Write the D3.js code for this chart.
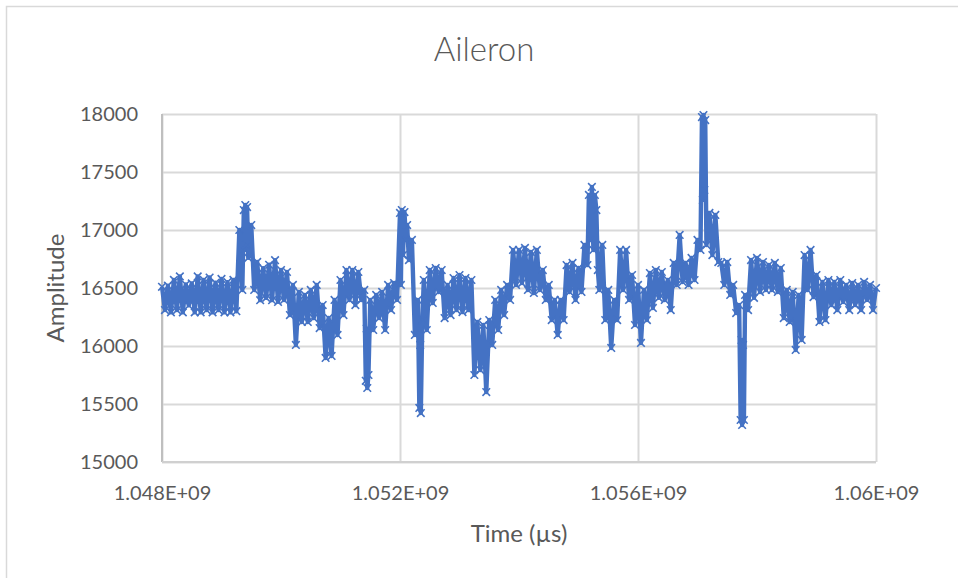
<!DOCTYPE html>
<html lang="en">
<head>
    <meta charset="utf-8">
    <style>
        body { margin: 0; background: #fff; }
        text { font-family: Lato, "Open Sans", sans-serif; fill: #595959; }
    </style>
    <script src="https://d3js.org/d3.v7.min.js"></script>
</head>
<body>
<script>
    var width = 958, height = 578;

    // time in seconds (multiplied to µs below), one line per second
    var timeSec = [
        1048.00,1048.05,1048.10,1048.15,1048.20,1048.25,1048.30,1048.35,1048.40,1048.45,1048.50,1048.55,1048.60,1048.65,1048.70,1048.75,1048.80,1048.85,1048.90,1048.95,
        1049.00,1049.05,1049.10,1049.15,1049.20,1049.25,1049.30,1049.35,1049.375,1049.39,1049.40,1049.415,1049.43,1049.45,1049.50,1049.55,1049.60,1049.65,1049.70,1049.75,1049.80,1049.85,1049.90,1049.95,
        1050.00,1050.05,1050.10,1050.15,1050.20,1050.25,1050.30,1050.35,1050.40,1050.45,1050.50,1050.55,1050.60,1050.65,1050.70,1050.75,1050.80,1050.85,1050.90,1050.95,
        1051.00,1051.05,1051.10,1051.15,1051.20,1051.25,1051.30,1051.35,1051.40,1051.425,1051.44,1051.45,1051.47,1051.50,1051.55,1051.60,1051.65,1051.70,1051.75,1051.80,1051.85,1051.90,1051.95,
        1052.00,1052.015,1052.03,1052.05,1052.075,1052.10,1052.12,1052.15,1052.20,1052.25,1052.30,1052.325,1052.34,1052.35,1052.375,1052.40,1052.45,1052.50,1052.55,1052.60,1052.65,1052.70,1052.75,1052.80,1052.85,1052.90,1052.95,
        1053.00,1053.05,1053.10,1053.15,1053.20,1053.25,1053.30,1053.35,1053.40,1053.45,1053.50,1053.55,1053.60,1053.65,1053.70,1053.75,1053.80,1053.85,1053.90,1053.95,
        1054.00,1054.05,1054.10,1054.15,1054.20,1054.25,1054.30,1054.35,1054.40,1054.45,1054.50,1054.55,1054.60,1054.65,1054.70,1054.75,1054.80,1054.85,1054.90,1054.95,
        1055.00,1055.05,1055.10,1055.15,1055.175,1055.20,1055.225,1055.25,1055.275,1055.30,1055.325,1055.35,1055.40,1055.45,1055.50,1055.55,1055.60,1055.65,1055.70,1055.75,1055.80,1055.85,1055.90,1055.95,
        1056.00,1056.05,1056.10,1056.15,1056.20,1056.25,1056.30,1056.35,1056.40,1056.45,1056.50,1056.55,1056.60,1056.65,1056.70,1056.75,1056.80,1056.85,1056.90,1056.95,
        1057.00,1057.05,1057.075,1057.09,1057.10,1057.115,1057.13,1057.15,1057.20,1057.25,1057.30,1057.35,1057.40,1057.45,1057.50,1057.55,1057.60,1057.65,1057.70,1057.725,1057.74,1057.75,1057.765,1057.78,1057.80,1057.85,1057.90,1057.95,
        1058.00,1058.05,1058.10,1058.15,1058.20,1058.25,1058.30,1058.35,1058.40,1058.45,1058.50,1058.55,1058.60,1058.65,1058.70,1058.75,1058.80,1058.85,1058.90,1058.95,
        1059.00,1059.05,1059.10,1059.15,1059.20,1059.25,1059.30,1059.35,1059.40,1059.45,1059.50,1059.55,1059.60,1059.65,1059.70,1059.75,1059.80,1059.85,1059.90,1059.95,
        1060.00
    ];

    var amplitude = [
        16510,16310,16520,16290,16570,16310,16600,16290,16530,16350,16540,16290,16600,16290,16570,16310,16590,16290,16545,16310,
        16578,16290,16550,16290,16570,16300,17000,16483,17172,16828,17215,16871,17198,16760,17043,16483,16725,16395,16670,16415,16700,16395,16740,16380,
        16655,16397,16638,16267,16526,16009,16466,16207,16440,16207,16483,16241,16526,16155,16353,15897,16241,15914,16397,16095,
        16569,16267,16655,16397,16655,16353,16638,16397,16483,15700,16150,15638,15750,16397,16138,16440,16241,16466,16138,16526,16310,16543,16397,
        17147,16526,17172,16784,17155,16914,17043,16741,16914,16095,16397,15466,16009,15422,16224,16569,16138,16655,16371,16672,16466,16655,16241,16526,16267,16586,16310,
        16612,16293,16586,16310,16569,15750,16207,15793,16181,15603,16224,16009,16397,16138,16483,16267,16526,16397,16828,16526,
        16828,16543,16845,16483,16810,16457,16828,16483,16655,16397,16526,16224,16397,16095,16397,16224,16698,16466,16716,16397,
        16672,16466,16871,16698,17302,16914,17371,16828,17302,17172,16655,16483,16871,16224,16483,15983,16397,16224,16828,16483,16828,16397,16612,16181,
        16526,16026,16483,16224,16629,16328,16655,16415,16638,16397,16569,16310,16716,16526,16957,16552,16716,16526,16759,16569,
        16914,16828,17974,17259,17991,17345,17948,16871,17147,16784,17130,16724,16716,16526,16724,16440,16526,16284,16353,15362,16052,15319,16009,15362,16440,16310,16741,16415,
        16759,16466,16724,16483,16698,16483,16716,16466,16672,16241,16483,16207,16466,15966,16440,16052,16784,16483,16828,16422,
        16612,16207,16552,16224,16569,16353,16552,16310,16569,16380,16526,16310,16543,16353,16526,16310,16552,16397,16526,16310,
        16500
    ];

    var yTicks = [15000, 15500, 16000, 16500, 17000, 17500, 18000];
    var xTicks = [1.048e9, 1.052e9, 1.056e9, 1.06e9];
    var xTickLabels = ["1.048E+09", "1.052E+09", "1.056E+09", "1.06E+09"];

    var points = [];
    for (var i = 0; i < timeSec.length; i++) {
        points.push({t: timeSec[i] * 1e6, v: amplitude[i]});
    }

    // plot area edges (note: "top" is reserved on window, so use plot*)
    var plotL = 162, plotR = 876, plotT = 114, plotB = 462;

    var svg = d3.select("body")
                .append("svg")
                .attr("width", width)
                .attr("height", height);

    // chart border (only top and left edges are in view)
    svg.append("rect")
       .attr("x", 6.5).attr("y", 6.5)
       .attr("width", 1000).attr("height", 1000)
       .attr("fill", "none")
       .attr("stroke", "#d9d9d9")
       .attr("stroke-width", 1.5);

    var xscale = d3.scaleLinear()
                   .domain([1.048e9, 1.06e9])
                   .range([plotL, plotR]);

    var yscale = d3.scaleLinear()
                   .domain([15000, 18000])
                   .range([plotB, plotT]);

    // horizontal grid + y labels
    var yAxis = d3.axisLeft(yscale)
                  .tickValues(yTicks)
                  .tickSize(-(plotR - plotL))
                  .tickPadding(24)
                  .tickFormat(d3.format("d"));

    var gy = svg.append("g")
                .attr("transform", "translate(" + plotL + ",0)")
                .call(yAxis);
    gy.select(".domain").remove();
    gy.selectAll(".tick line").attr("stroke", "#d9d9d9").attr("stroke-width", 2);
    gy.selectAll(".tick text").style("font-size", "20px").attr("fill", "#595959");

    // vertical grid + x labels
    var xAxis = d3.axisBottom(xscale)
                  .tickValues(xTicks)
                  .tickSize(-(plotB - plotT))
                  .tickPadding(24)
                  .tickFormat(function(d, i) { return xTickLabels[i]; });

    var gx = svg.append("g")
                .attr("transform", "translate(0," + plotB + ")")
                .call(xAxis);
    gx.select(".domain").remove();
    gx.selectAll(".tick line").attr("stroke", "#d9d9d9").attr("stroke-width", 2);
    gx.selectAll(".tick text").style("font-size", "20px").attr("fill", "#595959");

    // axis lines
    svg.append("line")
       .attr("x1", plotL).attr("x2", plotL)
       .attr("y1", plotT).attr("y2", plotB)
       .attr("stroke", "#bfbfbf").attr("stroke-width", 2);
    svg.append("line")
       .attr("x1", plotL).attr("x2", plotR)
       .attr("y1", plotB).attr("y2", plotB)
       .attr("stroke", "#d0d0d0").attr("stroke-width", 2);

    // series line (thick, the real trace is a dense band)
    var line = d3.line()
                 .x(function(d) { return xscale(d.t); })
                 .y(function(d) { return yscale(d.v); });

    svg.append("path")
       .datum(points)
       .attr("d", line)
       .attr("fill", "none")
       .attr("stroke", "#4472c4")
       .attr("stroke-width", 4.4)
       .attr("stroke-linejoin", "round");

    // x markers
    var m = 3.8;
    svg.selectAll(".mark")
       .data(points)
       .enter().append("path")
       .attr("class", "mark")
       .attr("transform", function(d) { return "translate(" + xscale(d.t) + "," + yscale(d.v) + ")"; })
       .attr("d", "M" + (-m) + "," + (-m) + "L" + m + "," + m + "M" + (-m) + "," + m + "L" + m + "," + (-m))
       .attr("stroke", "#4472c4")
       .attr("stroke-width", 1.6);

    // titles
    svg.append("text")
       .attr("x", 484).attr("y", 61)
       .attr("text-anchor", "middle")
       .style("font-size", "33px")
       .style("font-weight", 300)
       .text("Aileron");

    svg.append("text")
       .attr("x", (plotL + plotR) / 2).attr("y", 542)
       .attr("text-anchor", "middle")
       .style("font-size", "24px")
       .text("Time (µs)");

    svg.append("text")
       .attr("transform", "translate(64," + ((plotT + plotB) / 2) + ") rotate(-90)")
       .attr("text-anchor", "middle")
       .style("font-size", "24px")
       .text("Amplitude");
</script>
</body>
</html>
